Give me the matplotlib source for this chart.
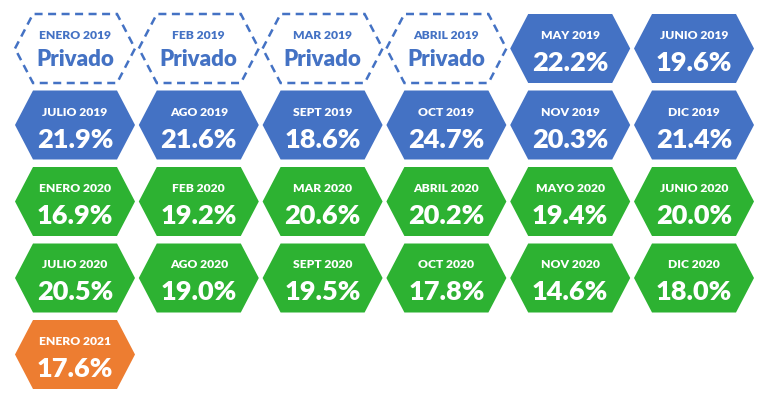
import matplotlib.pyplot as plt
from matplotlib.patches import Polygon

# data, row by row (6 per row)
labels = [
    "ENERO 2019", "FEB 2019", "MAR 2019", "ABRIL 2019", "MAY 2019", "JUNIO 2019",
    "JULIO 2019", "AGO 2019", "SEPT 2019", "OCT 2019", "NOV 2019", "DIC 2019",
    "ENERO 2020", "FEB 2020", "MAR 2020", "ABRIL 2020", "MAYO 2020", "JUNIO 2020",
    "JULIO 2020", "AGO 2020", "SEPT 2020", "OCT 2020", "NOV 2020", "DIC 2020",
    "ENERO 2021",
]
values = [
    None, None, None, None, 22.2, 19.6,
    21.9, 21.6, 18.6, 24.7, 20.3, 21.4,
    16.9, 19.2, 20.6, 20.2, 19.4, 20.0,
    20.5, 19.0, 19.5, 17.8, 14.6, 18.0,
    17.6,
]

BLUE = "#4472C4"
GREEN = "#2DB232"
ORANGE = "#ED7D31"

def color_for(label):
    if label.endswith("2019"):
        return BLUE
    if label.endswith("2020"):
        return GREEN
    return ORANGE

fig = plt.figure(figsize=(7.68, 4.04), dpi=100)
ax = fig.add_axes([0, 0, 1, 1])
ax.set_xlim(0, 768)
ax.set_ylim(404, 0)
ax.axis("off")

W, H, INSET = 120, 69, 18
x0, dx = 75, 123.8
y0, dy = 48.5, 76.5

for i, (lab, val) in enumerate(zip(labels, values)):
    cx = x0 + (i % 6) * dx
    cy = y0 + (i // 6) * dy
    pts = [(cx - W / 2, cy), (cx - W / 2 + INSET, cy - H / 2),
           (cx + W / 2 - INSET, cy - H / 2), (cx + W / 2, cy),
           (cx + W / 2 - INSET, cy + H / 2), (cx - W / 2 + INSET, cy + H / 2)]
    col = color_for(lab)
    if val is None:
        ax.add_patch(Polygon(pts, closed=True, facecolor="white", edgecolor=col,
                             linewidth=1.8, linestyle=(0, (3.2, 2.2))))
        ax.text(cx, cy - 13, lab, ha="center", va="center", color=col,
                fontsize=8.7, fontweight="heavy", family="Lato")
        ax.text(cx, cy + 11, "Privado", ha="center", va="center", color=col,
                fontsize=16, fontweight="heavy", family="Lato")
    else:
        ax.add_patch(Polygon(pts, closed=True, facecolor=col, edgecolor="none"))
        ax.text(cx, cy - 13, lab, ha="center", va="center", color="white",
                fontsize=8.7, fontweight="heavy", family="Lato")
        ax.text(cx, cy + 14.5, f"{val:.1f}%", ha="center", va="center", color="white",
                fontsize=19.5, fontweight="heavy", family="Lato")

fig.savefig("out.png", dpi=100)
